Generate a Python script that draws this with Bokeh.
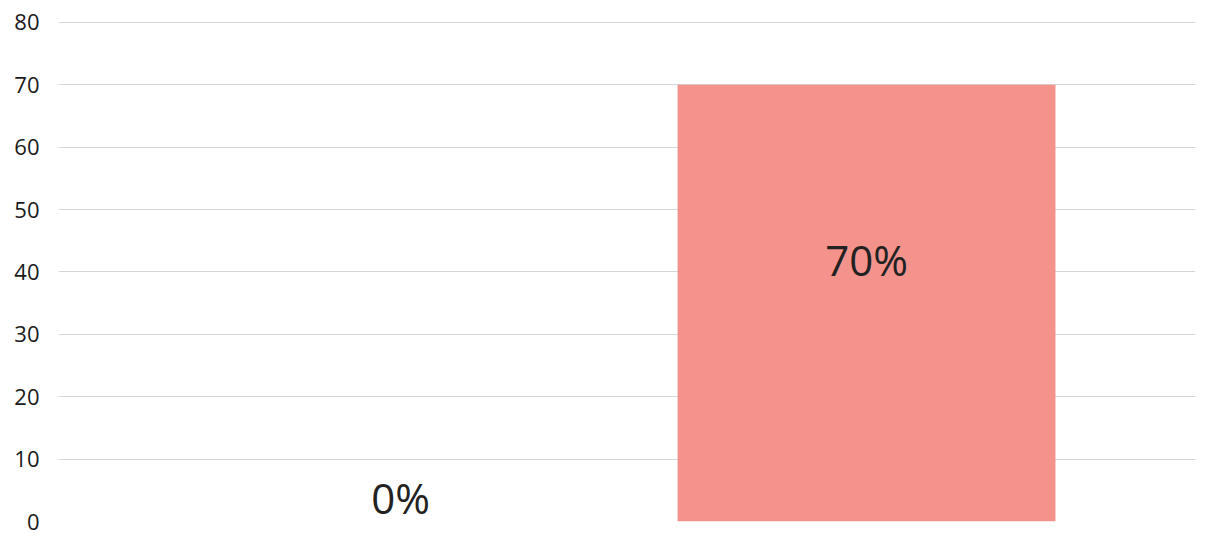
from bokeh.plotting import figure
from bokeh.models import ColumnDataSource, FixedTicker, Range1d
from bokeh.core.properties import value
from bokeh.embed import file_html
from bokeh.resources import INLINE

# Chart data
categories = ["Antes", "Después"]
values = [0, 70]
value_labels = ["0%", "70%"]
y_ticks = [0, 10, 20, 30, 40, 50, 60, 70, 80]

x_pos = list(range(len(categories)))
# value labels sit in the upper part of each bar; an empty bar gets its label just above the baseline
label_y = [v * 0.6 if v > 0 else 3.8 for v in values]

src = ColumnDataSource(dict(x=x_pos, top=values, label=value_labels, ly=label_y))

p = figure(
    width=1221, height=536,
    x_range=Range1d(-0.734, 1.706),
    y_range=Range1d(0, 80.3),
    output_backend="svg", toolbar_location=None,
    min_border_left=58, min_border_right=26,
    min_border_top=20, min_border_bottom=15,
)
p.outline_line_color = None
p.background_fill_color = "white"
p.border_fill_color = "white"

p.vbar(x="x", top="top", bottom=0, width=0.811, source=src,
       fill_color="#F4928C", line_color=None)

p.text(x="x", y="ly", text="label", source=src,
       text_font=value("Open Sans"), text_font_size="42px",
       text_color="#222222", text_align="center", text_baseline="middle")

p.xaxis.visible = False
p.xgrid.grid_line_color = None

p.yaxis.ticker = FixedTicker(ticks=y_ticks)
p.yaxis.axis_line_color = None
p.yaxis.major_tick_line_color = None
p.yaxis.minor_tick_line_color = None
p.yaxis.major_label_standoff = 13
p.yaxis.major_label_text_font = "Open Sans"
p.yaxis.major_label_text_font_size = "22px"
p.yaxis.major_label_text_color = "#1a1a1a"

p.ygrid.ticker = FixedTicker(ticks=y_ticks[1:])
p.ygrid.grid_line_color = "#d6d6d6"
p.ygrid.grid_line_width = 1
p.ygrid.level = "underlay"

open("out.html", "w").write(file_html(p, INLINE))
